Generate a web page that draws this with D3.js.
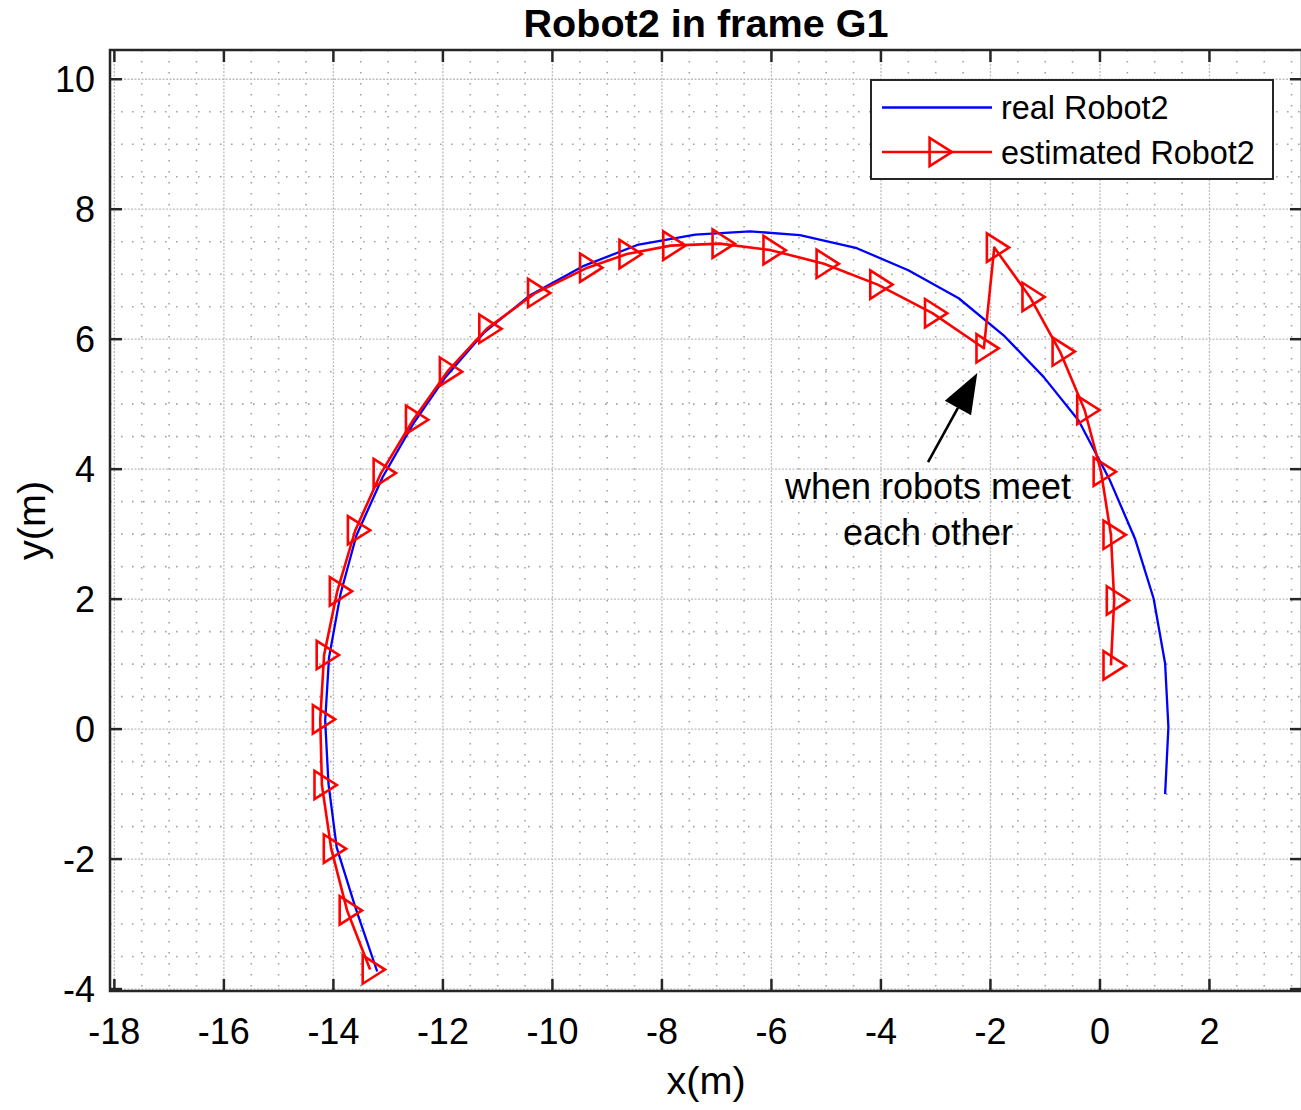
<!DOCTYPE html>
<html>
<head>
<meta charset="utf-8">
<script src="https://cdn.jsdelivr.net/npm/d3@7"></script>
<style>
  html, body { margin: 0; padding: 0; background: #fff; }
  svg { display: block; }
  text { font-family: "Liberation Sans", Arial, Helvetica, sans-serif; fill: #000; }
</style>
</head>
<body>
<svg id="chart" width="1301" height="1110"></svg>
<script>
// ---------------- data ----------------
const title = "Robot2 in frame G1";
const xLabel = "x(m)";
const yLabel = "y(m)";
const xTicks = [-18, -16, -14, -12, -10, -8, -6, -4, -2, 0, 2];
const yTicks = [-4, -2, 0, 2, 4, 6, 8, 10];
const seriesNames = ["real Robot2", "estimated Robot2"];

const realX = [-13.20, -13.60, -13.94, -14.09, -14.15, -14.08, -13.87, -13.58, -13.10, -12.54,
               -11.95, -11.25, -10.40, -9.45, -8.45, -7.39, -6.39, -5.48, -4.44, -3.50,
               -2.58, -1.76, -1.03, -0.39, 0.17, 0.64, 0.98, 1.19, 1.25, 1.19];
const realY = [-3.73, -2.74, -1.82, -0.84, 0.13, 1.10, 2.08, 2.98, 3.88, 4.70,
               5.42, 6.10, 6.68, 7.12, 7.45, 7.61, 7.66, 7.60, 7.40, 7.06,
               6.63, 6.06, 5.42, 4.75, 3.85, 2.93, 2.01, 1.01, 0.03, -1.00];

const estX = [-13.33, -13.75, -14.04, -14.21, -14.24, -14.17, -13.93, -13.60, -13.13, -12.54,
              -11.92, -11.20, -10.31, -9.36, -8.64, -7.84, -6.94, -6.01, -5.04, -4.06,
              -3.06, -2.12, -1.93, -1.28, -0.73, -0.28, 0.02, 0.20, 0.26, 0.20];
const estY = [-3.70, -2.79, -1.84, -0.86, 0.15, 1.14, 2.12, 3.06, 3.94, 4.76,
              5.50, 6.16, 6.71, 7.10, 7.31, 7.44, 7.47, 7.37, 7.16, 6.84,
              6.40, 5.86, 7.41, 6.65, 5.81, 4.91, 3.96, 2.99, 1.98, 0.98];

const annotationLines = ["when robots meet", "each other"];
// arrow: from tail (data) to head (data)
const arrowFrom = [-3.14, 4.11];
const arrowTo = [-2.24, 5.48];

// ---------------- layout ----------------
const plot = { left: 110, right: 1302, top: 50, bottom: 991 };
const xDomain = [-18.08, 3.69];
const yDomain = [-4.03, 10.45];

const svg = d3.select("#chart");
const x = d3.scaleLinear().domain(xDomain).range([plot.left, plot.right]);
const y = d3.scaleLinear().domain(yDomain).range([plot.bottom, plot.top]);

svg.append("defs").append("clipPath").attr("id", "clip")
  .append("rect").attr("x", plot.left).attr("y", plot.top)
  .attr("width", plot.right - plot.left).attr("height", plot.bottom - plot.top);

svg.append("rect").attr("x", plot.left).attr("y", plot.top)
  .attr("width", plot.right - plot.left).attr("height", plot.bottom - plot.top)
  .attr("fill", "#fff");

// grids
const xMinor = d3.range(-18, 3.7, 0.5).filter(v => !xTicks.includes(v));
const yMinor = d3.range(-4, 10.5, 0.5).filter(v => !yTicks.includes(v));
const grid = svg.append("g").attr("clip-path", "url(#clip)");

grid.selectAll(".xminor").data(xMinor).join("line")
  .attr("x1", d => x(d)).attr("x2", d => x(d))
  .attr("y1", plot.top).attr("y2", plot.bottom)
  .attr("stroke", "#a3a3a3").attr("stroke-width", 1.6).attr("stroke-dasharray", "1.6,9.4");
grid.selectAll(".yminor").data(yMinor).join("line")
  .attr("y1", d => y(d)).attr("y2", d => y(d))
  .attr("x1", plot.left).attr("x2", plot.right)
  .attr("stroke", "#a3a3a3").attr("stroke-width", 1.6).attr("stroke-dasharray", "1.6,9.4");
grid.selectAll(".xmajor").data(xTicks).join("line")
  .attr("x1", d => x(d)).attr("x2", d => x(d))
  .attr("y1", plot.top).attr("y2", plot.bottom)
  .attr("stroke", "#bdbdbd").attr("stroke-width", 1.3).attr("stroke-dasharray", "2,1.5");
grid.selectAll(".ymajor").data(yTicks).join("line")
  .attr("y1", d => y(d)).attr("y2", d => y(d))
  .attr("x1", plot.left).attr("x2", plot.right)
  .attr("stroke", "#bdbdbd").attr("stroke-width", 1.3).attr("stroke-dasharray", "2,1.5");

// data lines
const realData = realX.map((v, i) => [v, realY[i]]);
const estData = estX.map((v, i) => [v, estY[i]]);
const line = d3.line().x(d => x(d[0])).y(d => y(d[1]));
const dataG = svg.append("g").attr("clip-path", "url(#clip)");

dataG.append("path").datum(realData).attr("d", line)
  .attr("fill", "none").attr("stroke", "#0000ff").attr("stroke-width", 2.3)
  .attr("stroke-linejoin", "round");
dataG.append("path").datum(estData).attr("d", line)
  .attr("fill", "none").attr("stroke", "#ff0000").attr("stroke-width", 2.6)
  .attr("stroke-linejoin", "round");

const triPath = "M-7.4,-14.2 L14.9,0 L-7.4,14.2 Z";
dataG.selectAll(".marker").data(estData).join("path")
  .attr("d", triPath)
  .attr("transform", d => `translate(${x(d[0])},${y(d[1])})`)
  .attr("fill", "none").attr("stroke", "#ff0000").attr("stroke-width", 2.6)
  .attr("stroke-linejoin", "miter");

// axes frame
const axisColor = "#262626";
const tickLen = 12;
const axes = svg.append("g");
axes.append("rect").attr("x", plot.left).attr("y", plot.top)
  .attr("width", plot.right - plot.left).attr("height", plot.bottom - plot.top)
  .attr("fill", "none").attr("stroke", axisColor).attr("stroke-width", 2.5);

axes.selectAll(".xtb").data(xTicks).join("line")
  .attr("x1", d => x(d)).attr("x2", d => x(d))
  .attr("y1", plot.bottom).attr("y2", plot.bottom - tickLen)
  .attr("stroke", axisColor).attr("stroke-width", 2.5);
axes.selectAll(".xtt").data(xTicks).join("line")
  .attr("x1", d => x(d)).attr("x2", d => x(d))
  .attr("y1", plot.top).attr("y2", plot.top + tickLen)
  .attr("stroke", axisColor).attr("stroke-width", 2.5);
axes.selectAll(".ytl").data(yTicks).join("line")
  .attr("y1", d => y(d)).attr("y2", d => y(d))
  .attr("x1", plot.left).attr("x2", plot.left + tickLen)
  .attr("stroke", axisColor).attr("stroke-width", 2.5);
axes.selectAll(".ytr").data(yTicks).join("line")
  .attr("y1", d => y(d)).attr("y2", d => y(d))
  .attr("x1", plot.right).attr("x2", plot.right - tickLen)
  .attr("stroke", axisColor).attr("stroke-width", 2.5);

// tick labels
const tickFont = 36;
axes.selectAll(".xl").data(xTicks).join("text")
  .attr("x", d => x(d)).attr("y", 1044)
  .attr("text-anchor", "middle").attr("font-size", tickFont)
  .text(d => d);
axes.selectAll(".yl").data(yTicks).join("text")
  .attr("x", 95).attr("y", d => y(d) + 0.358 * tickFont)
  .attr("text-anchor", "end").attr("font-size", tickFont)
  .text(d => d);

// axis labels and title
svg.append("text").attr("x", (plot.left + plot.right) / 2).attr("y", 1094)
  .attr("text-anchor", "middle").attr("font-size", 39.6).text(xLabel);
svg.append("text")
  .attr("transform", `translate(45,${(plot.top + plot.bottom) / 2}) rotate(-90)`)
  .attr("text-anchor", "middle").attr("font-size", 39.6).text(yLabel);
svg.append("text").attr("x", (plot.left + plot.right) / 2).attr("y", 37)
  .attr("text-anchor", "middle").attr("font-size", 39.6).attr("font-weight", "bold")
  .text(title);

// annotation
const ann = svg.append("g");
const ax1 = x(arrowFrom[0]), ay1 = y(arrowFrom[1]);
const ax2 = x(arrowTo[0]), ay2 = y(arrowTo[1]);
const ang = Math.atan2(ay2 - ay1, ax2 - ax1);
const headLen = 40, headW = 15;
const bx = ax2 - headLen * Math.cos(ang), by = ay2 - headLen * Math.sin(ang);
ann.append("line").attr("x1", ax1).attr("y1", ay1).attr("x2", bx).attr("y2", by)
  .attr("stroke", "#000").attr("stroke-width", 2.6);
ann.append("path")
  .attr("d", `M${ax2},${ay2} L${bx + headW * Math.sin(ang)},${by - headW * Math.cos(ang)} L${bx - headW * Math.sin(ang)},${by + headW * Math.cos(ang)} Z`)
  .attr("fill", "#000");
ann.selectAll("text").data(annotationLines).join("text")
  .attr("x", 928).attr("y", (d, i) => 499 + i * 46)
  .attr("text-anchor", "middle").attr("font-size", 36)
  .text(d => d);

// legend
const lg = svg.append("g");
lg.append("rect").attr("x", 871).attr("y", 80).attr("width", 402).attr("height", 99)
  .attr("fill", "#fff").attr("stroke", axisColor).attr("stroke-width", 2);
const legendRows = [
  { name: seriesNames[0], color: "#0000ff", marker: false, cy: 107.5 },
  { name: seriesNames[1], color: "#ff0000", marker: true, cy: 152 }
];
legendRows.forEach(r => {
  lg.append("line").attr("x1", 882).attr("x2", 992).attr("y1", r.cy).attr("y2", r.cy)
    .attr("stroke", r.color).attr("stroke-width", r.marker ? 2.6 : 2.3);
  if (r.marker) {
    lg.append("path").attr("d", triPath).attr("transform", `translate(937,${r.cy})`)
      .attr("fill", "none").attr("stroke", r.color).attr("stroke-width", 2.6);
  }
  lg.append("text").attr("x", 1001).attr("y", r.cy + 0.358 * 32.4)
    .attr("font-size", 32.4).text(r.name);
});
</script>
</body>
</html>
